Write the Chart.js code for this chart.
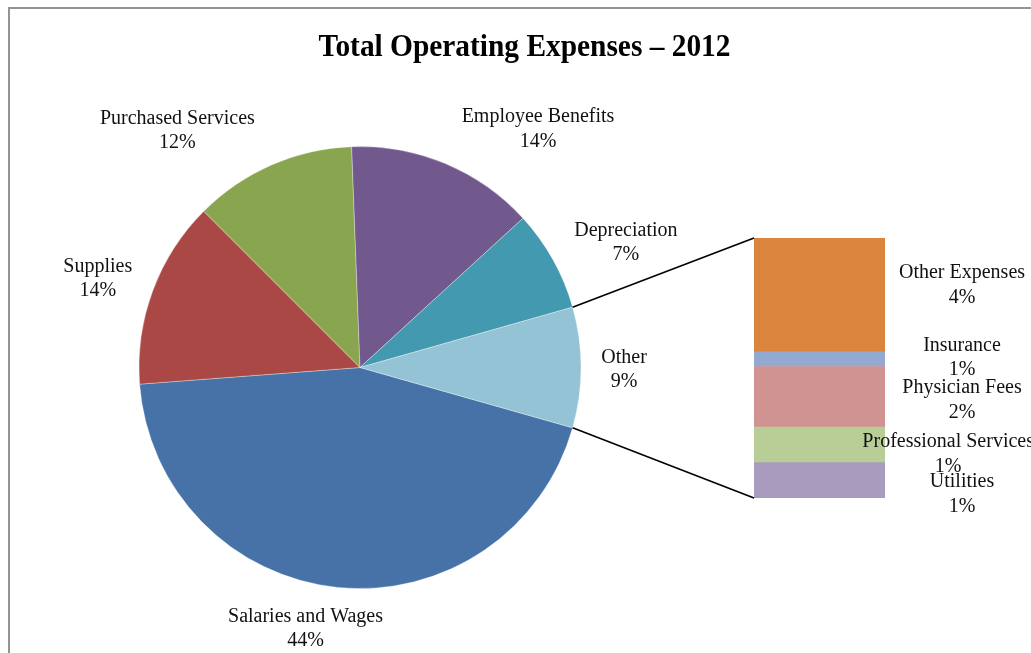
<!DOCTYPE html>
<html>
<head>
<meta charset="utf-8">
<title>Total Operating Expenses – 2012</title>
<script src="https://cdn.jsdelivr.net/npm/chart.js@4.4.1/dist/chart.umd.min.js"></script>
<style>
  html, body { margin: 0; padding: 0; background: #ffffff; overflow: hidden; }
  #stage { position: relative; width: 1031px; height: 653px; overflow: hidden; }
  #frame { position: absolute; left: 8px; top: 7px; width: 1100px; height: 700px;
           border: 2px solid #939393; box-sizing: border-box; }
  canvas { position: absolute; left: 0; top: 0; }
</style>
</head>
<body>
<div id="stage">
  <div id="frame"></div>
  <canvas id="pie" width="1031" height="653"></canvas>
  <canvas id="bar" width="1031" height="653"></canvas>
</div>
<script>
// Main pie, in drawing order (clockwise, starting just below the "Other" wedge)
const mainLabels = ['Salaries and Wages', 'Supplies', 'Purchased Services', 'Employee Benefits', 'Depreciation', 'Other'];
const mainValues = [44.4, 13.7, 11.9, 13.8, 7.4, 8.8];
const mainColors = ['#4672a8', '#a94845', '#8aa54f', '#71598e', '#4399af', '#93c3d4'];

// Breakdown of "Other", listed top to bottom as stacked in the column
const subLabels = ['Other Expenses', 'Insurance', 'Physician Fees', 'Professional Services', 'Utilities'];
const subValues = [3.85, 0.5, 2.05, 1.2, 1.2];
const subColors = ['#db843d', '#93a9d0', '#d19392', '#b9ce97', '#a99bbd'];

const chartTitle = 'Total Operating Expenses – 2012';

const LABEL_FONT = '20px "Liberation Serif", "Times New Roman", serif';
const TITLE_FONT = 'bold 31px "Liberation Serif", "Times New Roman", serif';
const LINE_H = 24.5;
const TEXT_SHIFT = 2;
const TEXT_COLOR = '#111111';
const total = mainValues.reduce((a, b) => a + b, 0);
const otherIndex = mainLabels.length - 1;
const pct = v => Math.round(v / total * 100) + '%';

function drawLabelBlock(ctx, lines, cx, cy) {
  ctx.save();
  ctx.font = LABEL_FONT;
  ctx.fillStyle = TEXT_COLOR;
  ctx.textAlign = 'center';
  ctx.textBaseline = 'middle';
  const start = cy + TEXT_SHIFT - (lines.length - 1) * LINE_H / 2;
  lines.forEach((t, i) => ctx.fillText(t, cx, start + i * LINE_H));
  ctx.restore();
}

function blockWidth(ctx, lines) {
  ctx.save();
  ctx.font = LABEL_FONT;
  const w = Math.max(...lines.map(t => ctx.measureText(t).width));
  ctx.restore();
  return w;
}

// Title plus outside-end labels around the pie
const pieLabels = {
  id: 'pieLabels',
  afterDatasetsDraw(chart) {
    const ctx = chart.ctx;
    // title, condensed slightly to its box
    ctx.save();
    ctx.font = TITLE_FONT;
    ctx.fillStyle = '#000000';
    ctx.textBaseline = 'alphabetic';
    const tw = ctx.measureText(chartTitle).width;
    const sx = Math.min(1, 412 / tw);
    ctx.translate(524.5, 56);
    ctx.scale(sx, 1);
    ctx.textAlign = 'center';
    ctx.fillText(chartTitle, 0, 0);
    ctx.restore();

    const arcs = chart.getDatasetMeta(0).data;
    arcs.forEach((arc, i) => {
      const lines = [mainLabels[i], pct(mainValues[i])];
      const mid = (arc.startAngle + arc.endAngle) / 2;
      const c = Math.cos(mid), s = Math.sin(mid);
      const R = arc.outerRadius + 15;
      const px = arc.x + R * c, py = arc.y + R * s;
      const w = blockWidth(ctx, lines);
      const h = LINE_H * 2;
      const k = Math.max(-1, Math.min(1, 3.6 * c));
      const cx = px + (w / 2) * 1.1 * k + (Math.abs(k) === 1 ? 3 * k : 0);
      const cy = py + (h / 2) * s;
      drawLabelBlock(ctx, lines, cx, cy);
    });
  }
};

const pieChart = new Chart(document.getElementById('pie'), {
  type: 'pie',
  data: {
    labels: mainLabels,
    datasets: [{
      data: mainValues,
      backgroundColor: mainColors,
      borderColor: 'rgba(255,255,255,0.55)',
      borderWidth: 0.6,
      hoverOffset: 0
    }]
  },
  options: {
    responsive: false,
    animation: false,
    events: [],
    // centre the "Other" wedge on the right-hand side
    rotation: 90 + (mainValues[otherIndex] / total) * 180,
    radius: 221,
    layout: { padding: { left: 139, right: 450, top: 146.5, bottom: 64.5 } },
    plugins: { legend: { display: false }, tooltip: { enabled: false }, title: { display: false } }
  },
  plugins: [pieLabels]
});

// Column labels and the two connector lines back to the pie
const barLabels = {
  id: 'barLabels',
  afterDatasetsDraw(chart) {
    const ctx = chart.ctx;
    const n = subLabels.length;
    // datasets are stacked bottom-up, so dataset j holds subLabels[n-1-j]
    const items = [];
    for (let j = 0; j < n; j++) {
      const el = chart.getDatasetMeta(j).data[0];
      const idx = n - 1 - j;
      items.push({ idx, el, cy: (el.y + el.base) / 2 });
    }
    items.sort((a, b) => a.cy - b.cy);
    // spread overlapping labels about their mean
    const minGap = 40;
    let smallest = Infinity;
    for (let i = 1; i < items.length; i++) smallest = Math.min(smallest, items[i].cy - items[i - 1].cy);
    const factor = Math.max(1, minGap / smallest);
    const mean = items.reduce((a, it) => a + it.cy, 0) / items.length;
    const anyEl = items[0].el;
    const barRight = anyEl.x + anyEl.width / 2;
    const limitRight = 1034;
    items.forEach(it => {
      const lines = [subLabels[it.idx], pct(subValues[it.idx])];
      const w = blockWidth(ctx, lines);
      let cx = barRight + 77;
      if (cx + w / 2 > limitRight) cx = limitRight - w / 2;
      const cy = mean + (it.cy - mean) * factor + 1;
      drawLabelBlock(ctx, lines, cx, cy);
    });

    // connectors from the edges of the "Other" wedge to the column corners
    const arc = pieChart.getDatasetMeta(0).data[otherIndex];
    const topEl = chart.getDatasetMeta(n - 1).data[0];
    const botEl = chart.getDatasetMeta(0).data[0];
    const left = topEl.x - topEl.width / 2;
    const R = arc.outerRadius;
    ctx.save();
    ctx.strokeStyle = '#000000';
    ctx.lineWidth = 1.6;
    ctx.beginPath();
    ctx.moveTo(arc.x + R * Math.cos(arc.startAngle), arc.y + R * Math.sin(arc.startAngle));
    ctx.lineTo(left, topEl.y);
    ctx.moveTo(arc.x + R * Math.cos(arc.endAngle), arc.y + R * Math.sin(arc.endAngle));
    ctx.lineTo(left, botEl.base);
    ctx.stroke();
    ctx.restore();
  }
};

const stackOrder = subLabels.map((_, i) => i).reverse();
new Chart(document.getElementById('bar'), {
  type: 'bar',
  data: {
    labels: ['Other'],
    datasets: stackOrder.map(i => ({
      label: subLabels[i],
      data: [subValues[i]],
      backgroundColor: subColors[i],
      borderWidth: 0,
      barPercentage: 1,
      categoryPercentage: 1
    }))
  },
  options: {
    responsive: false,
    animation: false,
    events: [],
    layout: { padding: { left: 754, right: 146, top: 238, bottom: 155 } },
    scales: {
      x: { display: false, stacked: true },
      y: { display: false, stacked: true, min: 0, max: mainValues[otherIndex] }
    },
    plugins: { legend: { display: false }, tooltip: { enabled: false }, title: { display: false } }
  },
  plugins: [barLabels]
});
</script>
</body>
</html>
